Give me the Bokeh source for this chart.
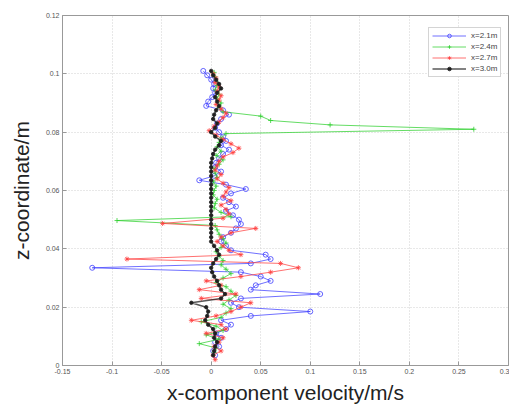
from bokeh.plotting import figure
from bokeh.models import FixedTicker, Legend, LegendItem
from bokeh.embed import file_html
from bokeh.resources import INLINE

# ---- data ----
z_blue = [0.101, 0.0995, 0.098, 0.0965, 0.095, 0.0935, 0.092, 0.0905, 0.089, 0.0875, 0.086, 0.0845,
          0.083, 0.0815, 0.080, 0.0785, 0.077, 0.0755, 0.074, 0.0725, 0.071, 0.0695, 0.068, 0.0665,
          0.065, 0.0635, 0.062, 0.0605, 0.059, 0.0575, 0.056, 0.0545, 0.053, 0.0515, 0.050, 0.0485,
          0.047, 0.0455, 0.044, 0.0425, 0.041, 0.0395, 0.038, 0.0365, 0.035, 0.0335, 0.032, 0.0305,
          0.029, 0.0275, 0.026, 0.0245, 0.023, 0.0215, 0.020, 0.0185, 0.017, 0.0155, 0.014, 0.0125,
          0.011, 0.0095, 0.008, 0.0065, 0.005, 0.0035]
u_blue = [-0.008, -0.004, 0.000, 0.003, 0.002, 0.004, 0.001, -0.003, -0.005, 0.012, 0.018, 0.010,
          0.006, 0.004, 0.008, 0.012, 0.015, 0.010, 0.018, 0.012, 0.008, 0.005, 0.004, 0.010,
          0.003, -0.012, 0.015, 0.035, 0.020, 0.012, 0.018, 0.025, 0.015, 0.022, 0.028, 0.030,
          0.025, 0.020, 0.012, 0.010, 0.015, 0.020, 0.055, 0.060, 0.040, -0.120, 0.030, 0.050,
          0.060, 0.045, 0.040, 0.110, 0.030, 0.020, 0.028, 0.100, 0.040, 0.010, 0.020, 0.015,
          0.005, 0.010, 0.004, 0.008, 0.002, 0.004]

z_green = [0.1005, 0.099, 0.0975, 0.096, 0.0945, 0.093, 0.0915, 0.090, 0.0885, 0.087, 0.0855, 0.084,
           0.0825, 0.081, 0.0795, 0.078, 0.0765, 0.075, 0.0735, 0.072, 0.0705, 0.069, 0.0675, 0.066,
           0.0645, 0.063, 0.0615, 0.060, 0.0585, 0.057, 0.0555, 0.054, 0.0525, 0.051, 0.0497, 0.048,
           0.0465, 0.045, 0.0435, 0.042, 0.0405, 0.039, 0.0375, 0.036, 0.0345, 0.033, 0.0315, 0.030,
           0.0285, 0.027, 0.0255, 0.024, 0.0225, 0.021, 0.0195, 0.018, 0.0165, 0.015, 0.0135, 0.012,
           0.0105, 0.009, 0.0075, 0.006, 0.0045]
u_green = [0.003, 0.004, 0.005, 0.006, 0.004, 0.008, 0.006, 0.010, 0.008, 0.012, 0.050, 0.060,
           0.120, 0.265, 0.015, 0.010, 0.008, 0.006, 0.010, 0.005, 0.012, 0.008, 0.003, 0.004,
           0.006, 0.002, 0.005, 0.003, 0.002, 0.006, 0.004, 0.003, 0.010, 0.020, -0.095, 0.004,
           0.006, 0.008, 0.012, 0.015, 0.010, 0.005, 0.008, 0.012, 0.010, 0.015, 0.020, 0.012,
           0.005, 0.015, 0.020, 0.025, 0.018, 0.012, 0.020, 0.015, 0.010, -0.010, 0.005, 0.012,
           -0.005, 0.008, -0.012, 0.005, 0.003]

z_red = [0.100, 0.0985, 0.097, 0.0955, 0.094, 0.0925, 0.091, 0.0895, 0.088, 0.0865, 0.085, 0.0835,
         0.082, 0.0805, 0.079, 0.0775, 0.076, 0.0745, 0.073, 0.0715, 0.070, 0.0685, 0.067, 0.0655,
         0.064, 0.0625, 0.061, 0.0595, 0.058, 0.0565, 0.055, 0.0535, 0.052, 0.0505, 0.0487, 0.047,
         0.0455, 0.044, 0.0425, 0.041, 0.0395, 0.038, 0.0365, 0.035, 0.0335, 0.032, 0.0305, 0.029,
         0.0275, 0.026, 0.0245, 0.023, 0.0215, 0.020, 0.0185, 0.017, 0.0155, 0.014, 0.0125, 0.011,
         0.0095, 0.008, 0.0065, 0.005, 0.0035, 0.002]
u_red = [0.002, 0.005, 0.004, 0.008, 0.006, 0.010, 0.008, 0.005, 0.010, 0.015, 0.012, 0.008,
         0.003, -0.002, 0.005, 0.012, 0.020, 0.028, 0.022, 0.012, 0.008, 0.006, 0.004, 0.010,
         0.006, 0.012, 0.018, 0.015, 0.012, 0.020, 0.010, 0.015, 0.018, 0.012, -0.049, 0.045,
         0.020, 0.010, 0.006, 0.012, 0.018, 0.030, -0.085, 0.070, 0.088, 0.060, 0.030, -0.005,
         0.010, -0.012, 0.025, -0.010, 0.040, 0.030, 0.020, 0.005, -0.020, 0.010, 0.015, -0.005,
         0.012, 0.008, 0.003, 0.010, 0.002, 0.004]

z_black = [0.101, 0.0995, 0.098, 0.0965, 0.095, 0.0935, 0.092, 0.0905, 0.089, 0.0875, 0.086, 0.0845,
           0.083, 0.0815, 0.080, 0.0785, 0.077, 0.0755, 0.074, 0.0725, 0.071, 0.0695, 0.068, 0.0665,
           0.065, 0.0635, 0.062, 0.0605, 0.059, 0.0575, 0.056, 0.0545, 0.053, 0.0515, 0.050, 0.0485,
           0.047, 0.0455, 0.044, 0.0425, 0.041, 0.0395, 0.038, 0.0365, 0.035, 0.0335, 0.032, 0.0305,
           0.029, 0.0275, 0.026, 0.0245, 0.023, 0.0215, 0.020, 0.0185, 0.017, 0.0155, 0.014, 0.0125,
           0.011, 0.0095, 0.008, 0.0065, 0.005, 0.0035]
u_black = [0.000, 0.002, 0.005, 0.008, 0.010, 0.006, 0.004, 0.006, 0.008, 0.005, 0.003, 0.002,
           0.006, 0.004, 0.000, 0.004, 0.010, 0.008, 0.004, 0.002, 0.001, 0.000, 0.000, 0.000,
           0.000, 0.000, 0.000, 0.000, 0.000, 0.000, 0.000, 0.000, 0.000, 0.000, 0.000, 0.000,
           0.000, 0.000, 0.000, 0.000, 0.003, 0.006, 0.008, 0.005, 0.002, 0.000, 0.001, 0.003,
           0.006, 0.008, 0.010, 0.014, 0.010, -0.020, -0.005, -0.003, -0.004, -0.006, -0.003, 0.002,
           0.004, 0.003, 0.006, 0.004, 0.003, 0.002]

series_labels = ["x=2.1m", "x=2.4m", "x=2.7m", "x=3.0m"]
x_ticks = [-0.15, -0.1, -0.05, 0, 0.05, 0.1, 0.15, 0.2, 0.25, 0.3]
x_tick_labels = ["-0.15", "-0.1", "-0.05", "0", "0.05", "0.1", "0.15", "0.2", "0.25", "0.3"]
y_ticks = [0, 0.02, 0.04, 0.06, 0.08, 0.1, 0.12]
y_tick_labels = ["0", "0.02", "0.04", "0.06", "0.08", "0.1", "0.12"]

p = figure(width=509, height=406, output_backend="svg", toolbar_location=None,
           x_range=(-0.15, 0.3), y_range=(0, 0.12),
           min_border_left=62, min_border_right=1, min_border_top=15, min_border_bottom=41)

p.outline_line_color = "#999999"
p.background_fill_color = "white"
p.border_fill_color = "white"

for ax, ticks, labels in ((p.xaxis[0], x_ticks, x_tick_labels), (p.yaxis[0], y_ticks, y_tick_labels)):
    ax.ticker = FixedTicker(ticks=ticks)
    ax.major_label_overrides = {t: l for t, l in zip(ticks, labels)}
    ax.major_label_text_font_size = "7px"
    ax.major_label_text_color = "#555555"
    ax.major_label_text_font = "Liberation Sans"
    ax.major_tick_in = 4
    ax.major_tick_out = 0
    ax.minor_tick_line_color = None
    ax.axis_line_color = "#999999"
    ax.major_tick_line_color = "#999999"
    ax.axis_label_text_font = "Liberation Sans"
    ax.axis_label_text_font_size = "21px"
    ax.axis_label_text_font_style = "normal"
    ax.axis_label_text_color = "#222222"
    ax.major_label_standoff = 3

p.xaxis.axis_label = "x-component velocity/m/s"
p.yaxis.axis_label = "z-coordinate/m"
p.xaxis.axis_label_standoff = 4
p.yaxis.axis_label_standoff = 10

for g in (p.xgrid[0], p.ygrid[0]):
    g.grid_line_color = "#d0d0d0"
    g.grid_line_dash = "1 2"

styles = [
    (u_blue, z_blue, "#4040ff", "circle", 1.0, 5),
    (u_green, z_green, "#30d030", "cross", 1.0, 5),
    (u_red, z_red, "#ff4040", "asterisk", 1.0, 5),
    (u_black, z_black, "#202020", "circle", 1.6, 3.5),
]
items = []
for (u, z, col, mk, lw, sz), lab in zip(styles, series_labels):
    r1 = p.line(u, z, line_color=col, line_width=lw, line_alpha=0.75)
    fill = col if col == "#202020" else None
    r2 = p.scatter(u, z, marker=mk, size=sz, line_color=col, fill_color=fill, line_alpha=0.8)
    items.append(LegendItem(label=lab, renderers=[r1, r2]))

legend = Legend(items=items, location=(366, 288))
legend.label_text_font_size = "8px"
legend.label_text_font = "Liberation Sans"
legend.label_height = 9
legend.glyph_height = 9
legend.glyph_width = 34
legend.spacing = 2
legend.padding = 3
legend.margin = 0
legend.border_line_color = "#aaaaaa"
legend.background_fill_alpha = 1
p.add_layout(legend, "center")

open("out.html", "w").write(file_html(p, INLINE))
